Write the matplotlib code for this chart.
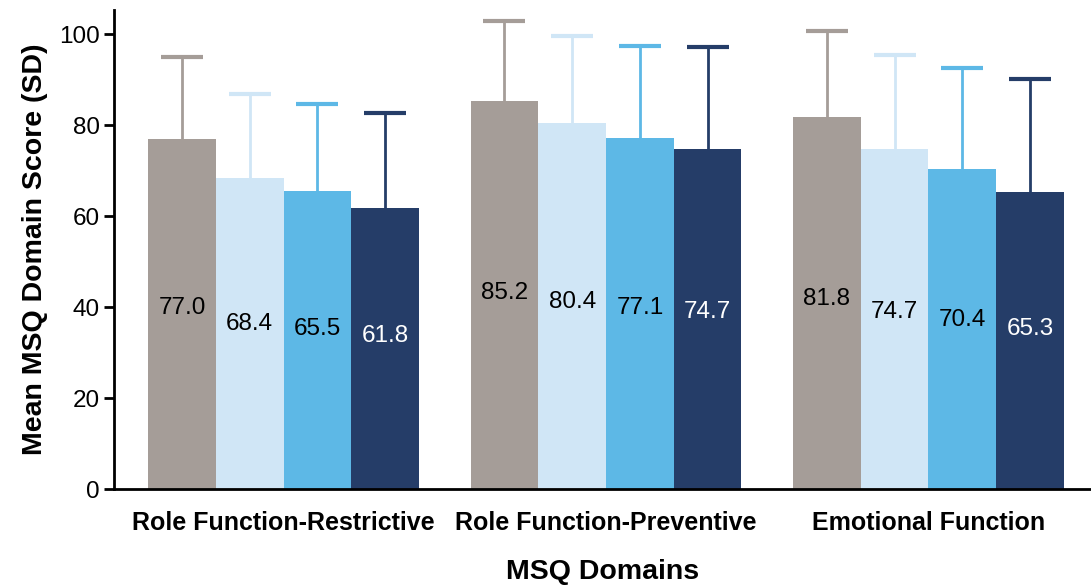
import numpy as np
import matplotlib.pyplot as plt

plt.rcParams['font.family'] = ['Liberation Sans', 'DejaVu Sans']

domains = ["Role Function-Restrictive", "Role Function-Preventive", "Emotional Function"]
means = [
    [77.0, 85.2, 81.8],
    [68.4, 80.4, 74.7],
    [65.5, 77.1, 70.4],
    [61.8, 74.7, 65.3],
]
sds = [
    [17.9, 17.7, 18.9],
    [18.4, 19.2, 20.7],
    [19.1, 20.3, 22.1],
    [20.8, 22.4, 24.8],
]
colors = ["#A59D98", "#D0E6F6", "#5DB8E6", "#253D68"]
label_colors = ["black", "black", "black", "white"]

fig = plt.figure(figsize=(10.91, 5.85), dpi=100)
ax = fig.add_axes([0.1045, 0.164, 0.8955, 0.819])

x = np.arange(len(domains))
w = 0.21
for i in range(4):
    pos = x + (i - 1.5) * w
    ax.bar(pos, means[i], width=w, color=colors[i], zorder=2)
    eb = ax.errorbar(pos, means[i], yerr=[np.zeros(3), sds[i]], fmt='none',
                     ecolor=colors[i], elinewidth=2, capsize=15, capthick=3, zorder=1)
    eb[1][0].set_visible(False)  # hide the lower cap at the bar top
    for p, v in zip(pos, means[i]):
        ax.text(p, v * 0.4 + 9, f"{v:.1f}", ha='center', va='center',
                fontsize=17.5, color=label_colors[i], zorder=3)

ax.set_xlim(-0.526, 2.504)
ax.set_ylim(0, 105.3)
ax.set_yticks([0, 20, 40, 60, 80, 100])
ax.tick_params(axis='y', labelsize=17.5, width=2, length=7, pad=3)
ax.set_xticks(x)
ax.set_xticklabels(domains, fontsize=18, fontweight='bold')
ax.tick_params(axis='x', length=0, pad=16)
for s in ['top', 'right']:
    ax.spines[s].set_visible(False)
for s in ['left', 'bottom']:
    ax.spines[s].set_linewidth(2)

ax.set_ylabel("Mean MSQ Domain Score (SD)", fontsize=20.5, fontweight='bold', labelpad=8)
ax.set_xlabel("MSQ Domains", fontsize=20.5, fontweight='bold', labelpad=17)

fig.savefig("out.png", dpi=100)
